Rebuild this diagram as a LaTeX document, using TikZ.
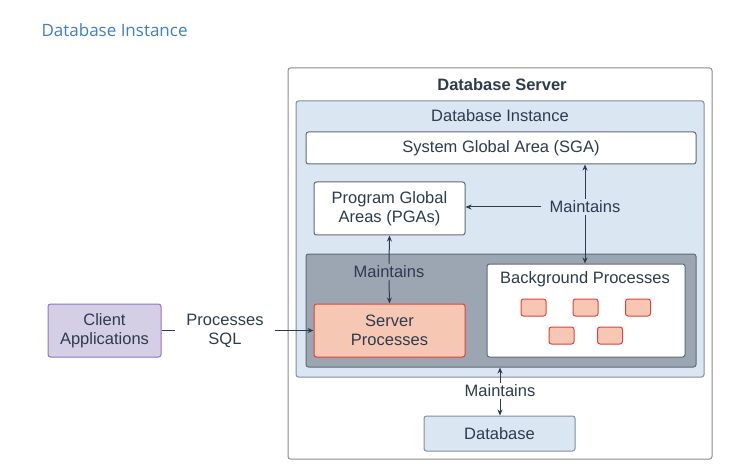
\documentclass[tikz,border=0pt]{standalone}
\usepackage{fontspec}
\setmainfont{Liberation Sans}
\newfontfamily\headfont{Open Sans}
\usepackage{tikz}
\usetikzlibrary{arrows.meta}
\definecolor{ink}{HTML}{2E3B4E}
\definecolor{ttl}{HTML}{3D7DCA}
\definecolor{frame}{HTML}{8C8C8C}
\definecolor{inst}{HTML}{DAE6F2}
\definecolor{instb}{HTML}{7F8FA0}
\definecolor{proc}{HTML}{9BA6B2}
\definecolor{procb}{HTML}{5E6A78}
\definecolor{srvf}{HTML}{F6C8B3}
\definecolor{srvb}{HTML}{E0403A}
\definecolor{cli}{HTML}{D5CFE6}
\definecolor{clib}{HTML}{8E72C0}
\tikzset{
	box/.style={draw, line width=1pt, rounded corners=2.5pt, inner sep=0pt, align=center, text=ink},
	lbl/.style={text=ink, align=center, inner xsep=8pt, inner ysep=2pt},
	con/.style={ink, line width=1pt, -{Stealth[length=6pt,width=5pt]}}
}

\begin{document}
\begin{tikzpicture}[x=1pt,y=-1pt,font=\fontsize{16.5}{19}\selectfont]
			\useasboundingbox (0,0) rectangle (755,473);

			\node[text=ttl, font=\headfont\fontsize{17}{20}\selectfont, anchor=west] (title) at (38,30) {Database Instance};

			% outer boxes
			\node[box, draw=frame, fill=white, minimum width=424, minimum height=391] (server) at (500,263.5) {};
			\node[text=ink, font=\bfseries\fontsize{16.5}{19}\selectfont] (servertxt) at (502,85) {Database Server};
			\node[box, draw=instb, fill=inst, minimum width=408, minimum height=276] (inst) at (500,239) {};
			\node[text=ink] (insttxt) at (500,116) {Database Instance};

			% memory
			\node[box, draw=procb, fill=white, minimum width=390, minimum height=32] (sga) at (501,148) {System Global Area (SGA)};
			\node[box, draw=procb, fill=white, minimum width=151, minimum height=53] (pga) at (389.5,208.5) {Program Global\\Areas (PGAs)};

			% processes
			\node[box, draw=procb, fill=proc, minimum width=390, minimum height=113] (procs) at (501,310.5) {};
			\node[box, draw=procb, fill=white, minimum width=198, minimum height=93] (bgp) at (586,310.5) {};
			\node[text=ink] (bgptxt) at (585,279) {Background Processes};
			\node[box, draw=srvb, fill=srvf, minimum width=151, minimum height=53] (srv) at (389.5,330.5) {Server\\Processes};
			\foreach \n/\px/\py in {b1/533.5/307.5, b2/585.5/307.5, b3/638/307.5, b4/561.5/335.5, b5/610/335.5}
				\node[box, draw=srvb, fill=srvf, minimum width=25, minimum height=17] (\n) at (\px,\py) {};

			% database + client
			\node[box, draw=instb, fill=inst, minimum width=151, minimum height=35] (db) at (499.5,433.5) {Database};
			\node[box, draw=clib, fill=cli, minimum width=113, minimum height=53] (client) at (104.5,330.5) {Client\\Applications};

			% labels
			\node[lbl] (mt1) at (585,207) {Maintains};
			\node[lbl] (mt2) at (389,272) {Maintains};
			\node[lbl] (mt3) at (500,391) {Maintains};
			\node[lbl, inner xsep=11pt] (sql) at (225,331) {Processes\\SQL};

			% connectors
			\draw[con] (mt1.west) -- (mt1.west -| pga.east);
			\draw[con] (mt1.north) -- (mt1.north |- sga.south);
			\draw[con] (mt1.south) -- (mt1.south |- bgp.north);
			\draw[con] (mt2.north) -- (pga.south);
			\draw[con] (mt2.south) -- (srv.north);
			\draw[con] (mt3.north) -- (mt3.north |- procs.south);
			\draw[con] (mt3.south) -- (mt3.south |- db.north);
			\draw[ink, line width=1pt] (client.east) -- (sql.west |- client.east);
			\draw[con] (sql.east |- srv.west) -- (srv.west);
		\end{tikzpicture}
\end{document}
